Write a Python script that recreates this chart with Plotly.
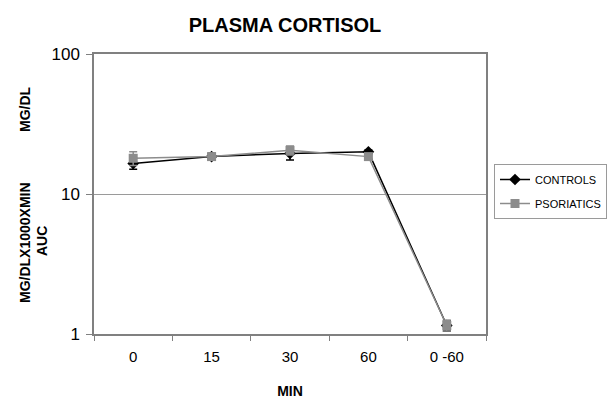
import plotly.graph_objects as go

categories = ["0", "15", "30", "60", "0 -60"]
controls = [16.5, 18.5, 19.5, 20.0, 1.15]
controls_err = [1.5, 1.0, 2.0, 0.6, 0.1]
psoriatics = [18.0, 18.5, 20.5, 18.5, 1.15]
psoriatics_err = [2.0, 1.0, 1.5, 0.6, 0.1]
y_ticks = [1, 10, 100]

FONT = "Liberation Sans, Arial, sans-serif"
L, R, T, B = 94, 486, 54, 334
W, H = 613, 399

fig = go.Figure()
fig.add_trace(go.Scatter(
    x=categories, y=controls, name="CONTROLS", mode="lines+markers",
    line=dict(color="#000000", width=1.5),
    marker=dict(symbol="diamond", size=9, color="#000000"),
    error_y=dict(type="data", array=controls_err, color="#000000", thickness=1.5, width=4),
    legendgroup="a",
))
fig.add_trace(go.Scatter(
    x=categories, y=psoriatics, name="PSORIATICS", mode="lines+markers",
    line=dict(color="#8c8c8c", width=1.5),
    marker=dict(symbol="square", size=9, color="#8c8c8c"),
    error_y=dict(type="data", array=psoriatics_err, color="#8c8c8c", thickness=1.5, width=4),
    legendgroup="b",
))

fig.update_layout(
    template="none",
    width=W, height=H,
    margin=dict(l=L, r=W - R, t=T, b=H - B, pad=0, autoexpand=False),
    paper_bgcolor="white", plot_bgcolor="white",
    font=dict(family=FONT, color="#000000", size=14),
    title=dict(text="<b>PLASMA CORTISOL</b>", xref="container", x=285 / W, xanchor="center",
               yref="container", y=1 - 25 / H, yanchor="middle", font=dict(size=20, family=FONT)),
    showlegend=True,
    legend=dict(x=(494 - L) / (R - L), y=(B - 164) / (B - T), xanchor="left", yanchor="top",
                bordercolor="#9a9a9a", borderwidth=1, bgcolor="white",
                font=dict(size=11, family=FONT), traceorder="grouped", tracegroupgap=5,
                itemwidth=30),
)
fig.update_xaxes(
    type="category", range=[-0.5, len(categories) - 0.5],
    tickson="boundaries", ticks="outside", ticklen=5,
    tickcolor="#808080", showline=True, linecolor="#808080", linewidth=1.5, mirror=True,
    showgrid=False, tickfont=dict(size=15), automargin=False, ticklabelstandoff=8,
    title=dict(text="<b>MIN</b>", font=dict(size=14), standoff=22),
)
fig.update_yaxes(
    type="log", range=[0, 2], tickvals=y_ticks, ticktext=[str(v) for v in y_ticks],
    ticks="outside", ticklen=6, tickcolor="#808080",
    showline=True, linecolor="#808080", linewidth=1.5, mirror=True,
    showgrid=True, gridcolor="#9a9a9a", gridwidth=1.2, zeroline=False,
    tickfont=dict(size=17), automargin=False, ticklabelstandoff=3,
)

for text, xp, yp in [("<b>MG/DL</b>", 25, 109), ("<b>MG/DLX1000XMIN</b>", 25, 243), ("<b>AUC</b>", 42, 241)]:
    fig.add_annotation(text=text, xref="paper", yref="paper",
                       x=(xp - L) / (R - L), y=(B - yp) / (B - T), textangle=-90,
                       showarrow=False, font=dict(size=14, family=FONT),
                       xanchor="center", yanchor="middle")

fig.write_html("out.html", config={"displayModeBar": False},
               post_script="document.body.style.margin='0';")
